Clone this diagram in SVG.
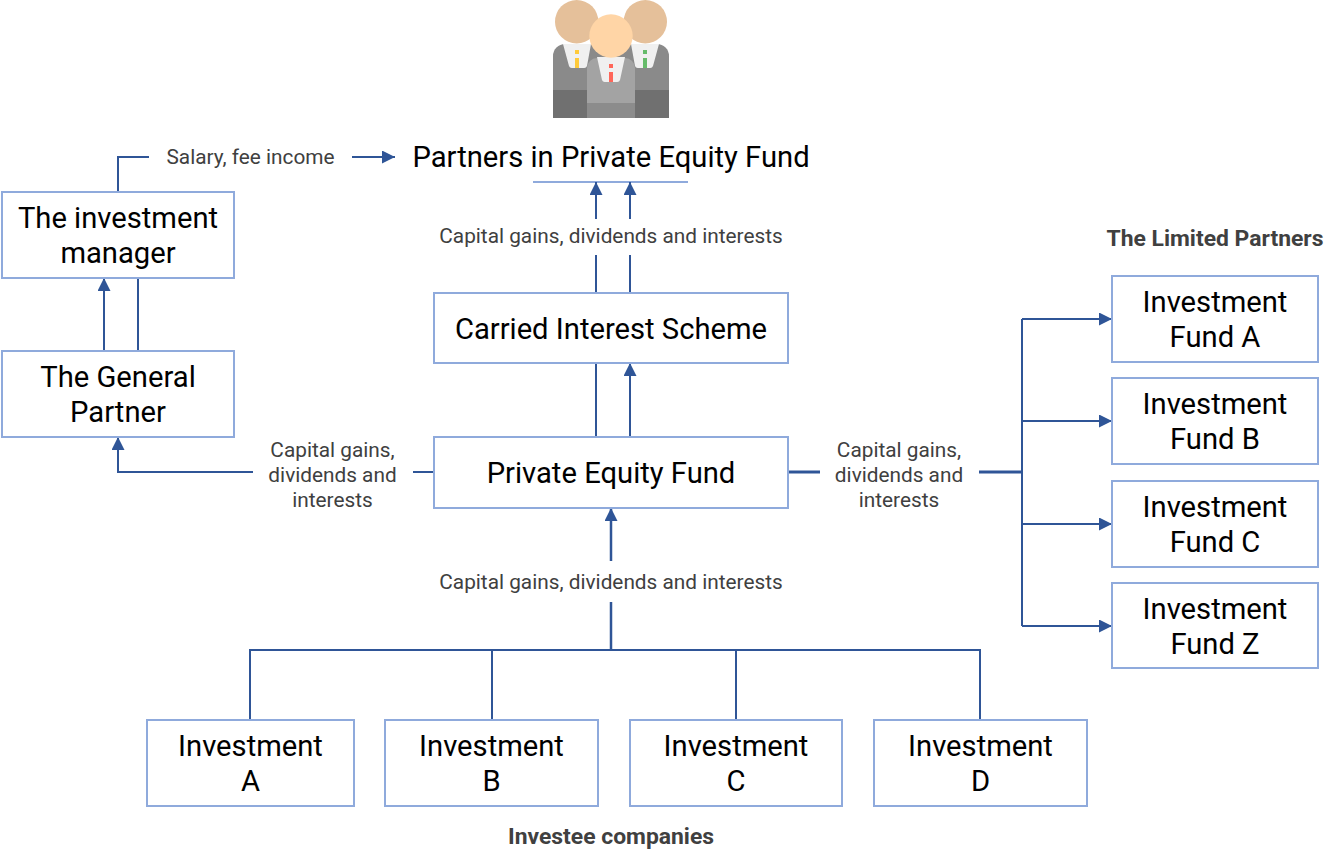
<svg xmlns="http://www.w3.org/2000/svg" width="1344" height="865" viewBox="0 0 1344 865">
<style>
text{font-family:Roboto,"Liberation Sans",sans-serif;text-anchor:middle}
.n rect{fill:#fff;stroke:#8FAADC;stroke-width:2}
.n text,.t{font-size:29.2px;fill:#000}
.l{font-size:20.8px;fill:#404040}
.h{font-size:22.9px;font-weight:700;fill:#404040}
.c path{fill:none;stroke:#2F5597;stroke-width:2}
</style>
<defs><marker id="a" markerUnits="userSpaceOnUse" markerWidth="13" markerHeight="13" refX="13" refY="6.5" orient="auto"><path d="M0 0L13 6.5L0 13Z" fill="#2F5597"/></marker></defs>
<rect width="1344" height="865" fill="#fff"/>
<g id="partners-icon">
<path d="M553 118V56a12 12 0 0 1 12-12H657a12 12 0 0 1 12 12V118Z" fill="#8A8A8A"/>
<rect x="553" y="90" width="116" height="28" fill="#707070"/>
<path d="M563 44H591L587 66a3 3 0 0 1-3 2H572a3 3 0 0 1-3-2Z" fill="#f0f0f0"/>
<path d="M631 44H659L653 66a3 3 0 0 1-3 2H638a3 3 0 0 1-3-2Z" fill="#f0f0f0"/>
<rect x="575" y="50" width="4" height="4" fill="#FFCA3A"/><rect x="575" y="58" width="4" height="10" fill="#FFCA3A"/>
<rect x="643" y="50" width="4" height="4" fill="#66BB6A"/><rect x="643" y="58" width="4" height="10" fill="#66BB6A"/>
<circle cx="576.700" cy="21.700" r="21.700" fill="#E5C09A"/><circle cx="645.300" cy="21.700" r="21.700" fill="#E5C09A"/>
<path d="M587 118V68a10 10 0 0 1 10-10H625a10 10 0 0 1 10 10V118Z" fill="#A3A3A3"/>
<rect x="587" y="103" width="48" height="15" fill="#8C8C8C"/>
<path d="M597 57H625L620 80a3 3 0 0 1-3 2H605a3 3 0 0 1-3-2Z" fill="#f0f0f0"/>
<rect x="609" y="64" width="4" height="4" fill="#FF6659"/><rect x="609" y="72" width="4" height="10" fill="#FF6659"/>
<circle cx="611" cy="36" r="21.700" fill="#FFD5A6"/>
</g>
<g class="c" id="connectors">
<path d="M533 182H688" style="stroke:#8FAADC"/>
<path d="M118 192V157H149"/>
<path d="M352 157H395" marker-end="url(#a)"/>
<path d="M596 255V293"/><path d="M630 255V293"/>
<path d="M596 219V182" marker-end="url(#a)"/><path d="M630 219V182" marker-end="url(#a)"/>
<path d="M596 437V364"/><path d="M630 437V363" marker-end="url(#a)"/>
<path d="M104 351V278" marker-end="url(#a)"/><path d="M138 351V278"/>
<path d="M253 472H118V437" marker-end="url(#a)"/><path d="M413 472H434"/>
<path d="M788 472H820" style="stroke-width:3"/><path d="M979 472H1022" style="stroke-width:3"/>
<path d="M1022 319V626"/>
<path d="M1022 319H1112" marker-end="url(#a)"/><path d="M1022 421H1112" marker-end="url(#a)"/><path d="M1022 524H1112" marker-end="url(#a)"/><path d="M1022 626H1112" marker-end="url(#a)"/>
<path d="M611 561V508" style="stroke-width:2.500" marker-end="url(#a)"/>
<path d="M611 602V650" style="stroke-width:2.500"/>
<path d="M250 720V650H980V720"/><path d="M492 650V720"/><path d="M736 650V720"/>
</g>
<text class="t" x="611" y="167">Partners in Private Equity Fund</text>
<g class="n" id="manager"><rect x="2" y="192" width="232" height="86"/><text x="118" y="228">The investment</text><text x="118" y="263">manager</text></g>
<g class="n" id="general-partner"><rect x="2" y="351" width="232" height="86"/><text x="118" y="387">The General</text><text x="118" y="422">Partner</text></g>
<g class="n" id="carried"><rect x="434" y="293" width="354" height="70"/><text x="611" y="339">Carried Interest Scheme</text></g>
<g class="n" id="pe-fund"><rect x="434" y="437" width="354" height="71"/><text x="611" y="483">Private Equity Fund</text></g>
<g class="n" id="fund-a"><rect x="1112" y="276" width="206" height="86"/><text x="1215" y="312">Investment</text><text x="1215" y="347">Fund A</text></g>
<g class="n" id="fund-b"><rect x="1112" y="378" width="206" height="86"/><text x="1215" y="414">Investment</text><text x="1215" y="449">Fund B</text></g>
<g class="n" id="fund-c"><rect x="1112" y="481" width="206" height="86"/><text x="1215" y="517">Investment</text><text x="1215" y="552">Fund C</text></g>
<g class="n" id="fund-z"><rect x="1112" y="583" width="206" height="85"/><text x="1215" y="619">Investment</text><text x="1215" y="654">Fund Z</text></g>
<g class="n" id="inv-a"><rect x="147" y="720" width="207" height="86"/><text x="250.500" y="756">Investment</text><text x="250.500" y="791">A</text></g>
<g class="n" id="inv-b"><rect x="385" y="720" width="213" height="86"/><text x="491.500" y="756">Investment</text><text x="491.500" y="791">B</text></g>
<g class="n" id="inv-c"><rect x="630" y="720" width="212" height="86"/><text x="736" y="756">Investment</text><text x="736" y="791">C</text></g>
<g class="n" id="inv-d"><rect x="874" y="720" width="213" height="86"/><text x="980.500" y="756">Investment</text><text x="980.500" y="791">D</text></g>
<text class="l" x="250.500" y="164">Salary, fee income</text>
<text class="l" x="611" y="243">Capital gains, dividends and interests</text>
<text class="l" x="611" y="589">Capital gains, dividends and interests</text>
<text class="l" x="332.500" y="457">Capital gains,</text><text class="l" x="332.500" y="482">dividends and</text><text class="l" x="332.500" y="507">interests</text>
<text class="l" x="899" y="457">Capital gains,</text><text class="l" x="899" y="482">dividends and</text><text class="l" x="899" y="507">interests</text>
<text class="h" x="1215" y="246">The Limited Partners</text>
<text class="h" x="611" y="844">Investee companies</text>
</svg>
